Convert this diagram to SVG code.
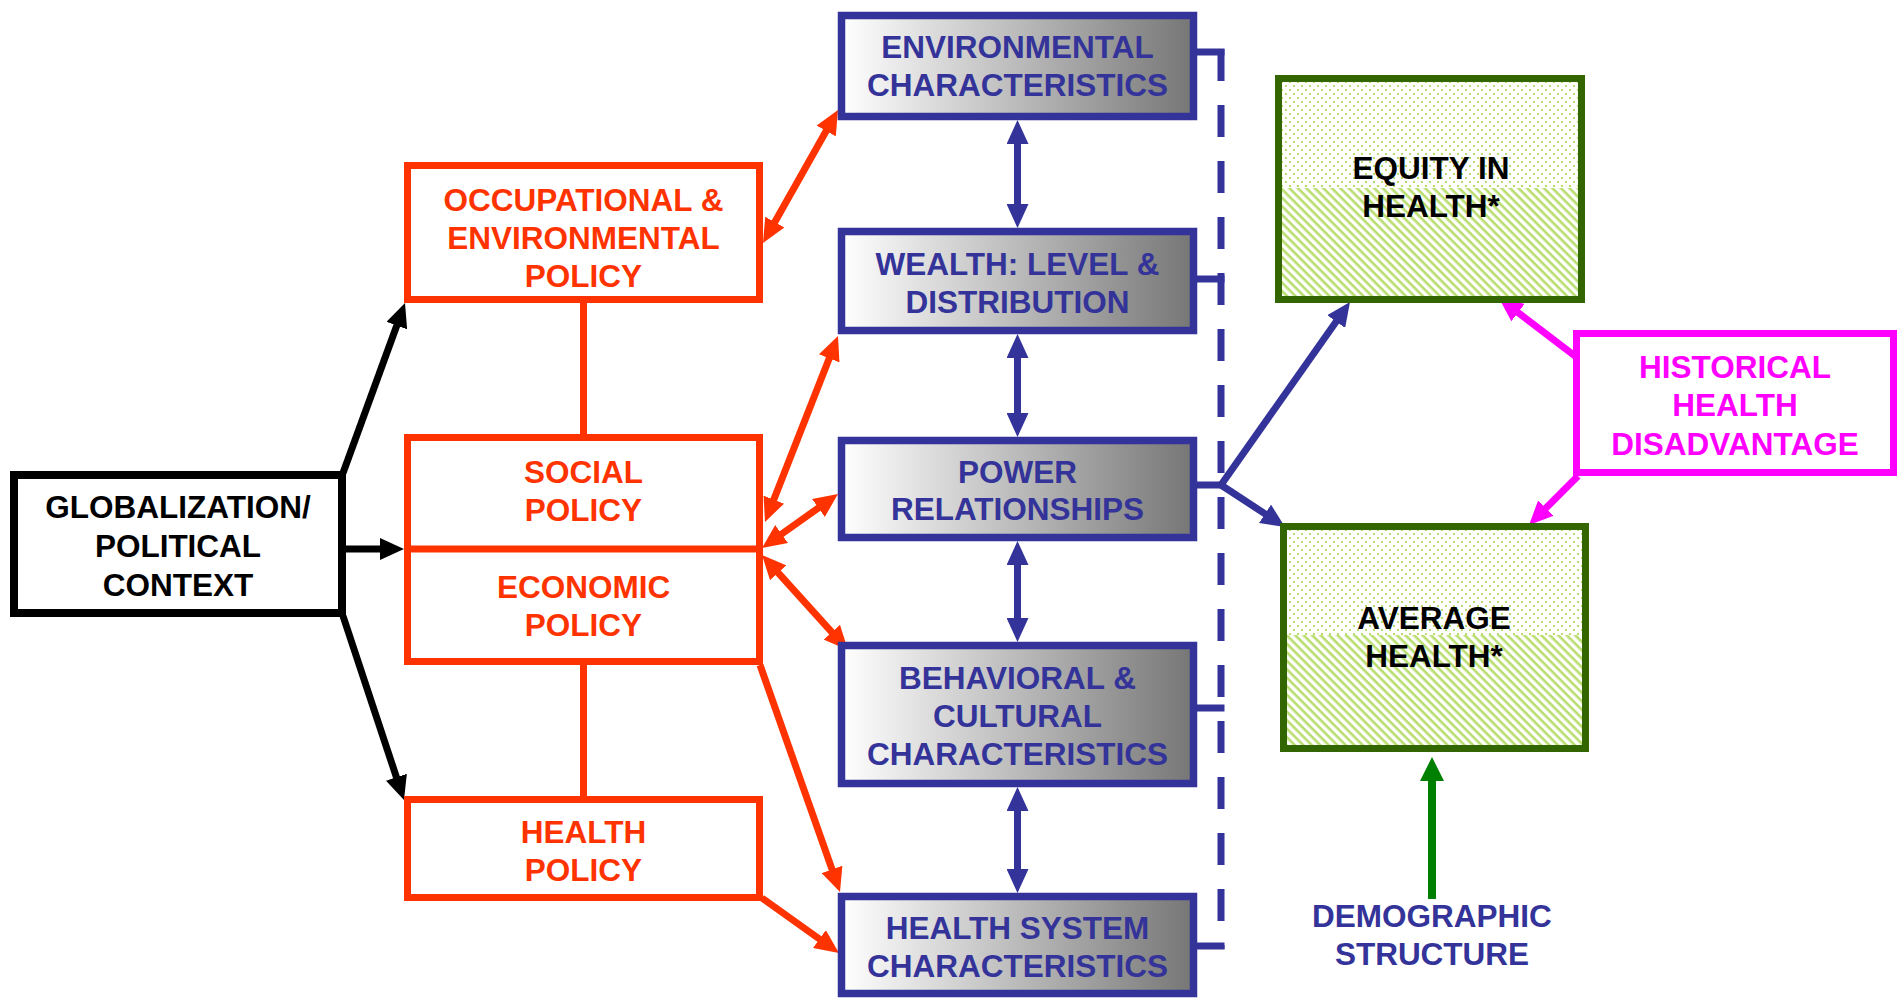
<svg xmlns="http://www.w3.org/2000/svg" width="1902" height="1000" viewBox="0 0 1902 1000">
<style>
  text { font-family: "Liberation Sans", Arial, sans-serif; font-weight: bold; font-size: 31.5px; text-anchor: middle; }
  .tk { fill: #000; }
  .tr { fill: #FF3300; }
  .tb { fill: #333399; }
  .tm { fill: #FF00FF; }
  .bk { fill: #fff; stroke: #000; stroke-width: 8; }
  .rd { fill: #fff; stroke: #FF3300; stroke-width: 7; }
  .bl { fill: url(#grad); stroke: #333399; stroke-width: 7.5; }
  .gr { fill: none; stroke: #336600; stroke-width: 7; }
  .mg { fill: #fff; stroke: #FF00FF; stroke-width: 7; }
  .lk { stroke: #000; stroke-width: 7; fill: none; }
  .lr { stroke: #FF3300; stroke-width: 7; fill: none; }
  .lb { stroke: #333399; stroke-width: 7; fill: none; }
  .lm { stroke: #FF00FF; stroke-width: 7; fill: none; }
  .lg { stroke: #008000; stroke-width: 8; fill: none; }
</style>
<defs>
  <linearGradient id="grad" x1="0" y1="0" x2="1" y2="0">
    <stop offset="0" stop-color="#ffffff"/>
    <stop offset="1" stop-color="#767676"/>
  </linearGradient>
  <pattern id="dots" width="8" height="8" patternUnits="userSpaceOnUse">
    <rect width="8" height="8" fill="#fff"/>
    <circle cx="2" cy="2" r="1.1" fill="#a8d44a"/>
    <circle cx="6" cy="6" r="1.1" fill="#a8d44a"/>
  </pattern>
  <pattern id="hatch" width="6" height="6" patternUnits="userSpaceOnUse" patternTransform="rotate(45)">
    <rect width="6" height="6" fill="#fff"/>
    <rect width="6" height="2.6" fill="#b9dd6e"/>
  </pattern>
  <marker id="ak" viewBox="0 0 24 22" refX="12" refY="11" markerWidth="24" markerHeight="22" markerUnits="userSpaceOnUse" orient="auto-start-reverse"><path d="M0,0 L24,11 L0,22 z" fill="#000"/></marker>
  <marker id="ar" viewBox="0 0 24 22" refX="12" refY="11" markerWidth="24" markerHeight="22" markerUnits="userSpaceOnUse" orient="auto-start-reverse"><path d="M0,0 L24,11 L0,22 z" fill="#FF3300"/></marker>
  <marker id="ab" viewBox="0 0 24 22" refX="12" refY="11" markerWidth="24" markerHeight="22" markerUnits="userSpaceOnUse" orient="auto-start-reverse"><path d="M0,0 L24,11 L0,22 z" fill="#333399"/></marker>
  <marker id="am" viewBox="0 0 24 22" refX="12" refY="11" markerWidth="24" markerHeight="22" markerUnits="userSpaceOnUse" orient="auto-start-reverse"><path d="M0,0 L24,11 L0,22 z" fill="#FF00FF"/></marker>
  <marker id="ag" viewBox="0 0 24 24" refX="12" refY="12" markerWidth="24" markerHeight="24" markerUnits="userSpaceOnUse" orient="auto-start-reverse"><path d="M0,0 L24,12 L0,24 z" fill="#008000"/></marker>
</defs>

<g id="connectors">
  <line class="lr" x1="583.5" y1="303" x2="583.5" y2="434"/>
  <line class="lr" x1="583.5" y1="665" x2="583.5" y2="796"/>
  <line class="lk" x1="343" y1="473" x2="400.9" y2="314.3" marker-end="url(#ak)"/>
  <line class="lk" x1="343" y1="549" x2="392" y2="549" marker-end="url(#ak)"/>
  <line class="lk" x1="343" y1="616" x2="400.2" y2="788.6" marker-end="url(#ak)"/>
  <line class="lr" x1="768.9" y1="232.5" x2="832.1" y2="120.5" marker-start="url(#ar)" marker-end="url(#ar)"/>
  <line class="lr" x1="769.4" y1="510.8" x2="833.6" y2="347.2" marker-start="url(#ar)" marker-end="url(#ar)"/>
  <line class="lr" x1="771.8" y1="541" x2="828.2" y2="501" marker-start="url(#ar)" marker-end="url(#ar)"/>
  <line class="lr" x1="770.1" y1="563.9" x2="839.9" y2="641.1" marker-start="url(#ar)" marker-end="url(#ar)"/>
  <line class="lr" x1="760" y1="665" x2="836" y2="880.7" marker-end="url(#ar)"/>
  <line class="lr" x1="762" y1="898" x2="829.2" y2="946" marker-end="url(#ar)"/>
  <line class="lb" x1="1017.5" y1="132" x2="1017.5" y2="216" marker-start="url(#ab)" marker-end="url(#ab)"/>
  <line class="lb" x1="1017.5" y1="346" x2="1017.5" y2="425" marker-start="url(#ab)" marker-end="url(#ab)"/>
  <line class="lb" x1="1017.5" y1="553" x2="1017.5" y2="630" marker-start="url(#ab)" marker-end="url(#ab)"/>
  <line class="lb" x1="1017.5" y1="799" x2="1017.5" y2="881" marker-start="url(#ab)" marker-end="url(#ab)"/>
  <line class="lb" x1="1221" y1="49" x2="1221" y2="949" stroke-dasharray="32 24"/>
  <line class="lb" x1="1197" y1="52" x2="1224.5" y2="52"/>
  <line class="lb" x1="1197" y1="279" x2="1224.5" y2="279"/>
  <line class="lb" x1="1197" y1="485" x2="1224.5" y2="485"/>
  <line class="lb" x1="1197" y1="708" x2="1224.5" y2="708"/>
  <line class="lb" x1="1197" y1="946" x2="1224.5" y2="946"/>
  <line class="lb" x1="1221" y1="485" x2="1343.1" y2="311.8" marker-end="url(#ab)"/>
  <line class="lb" x1="1221" y1="485" x2="1275" y2="520.4" marker-end="url(#ab)"/>
  <line class="lm" x1="1575" y1="356" x2="1508.5" y2="305.3" marker-end="url(#am)"/>
  <line class="lm" x1="1578" y1="476" x2="1537.5" y2="516.5" marker-end="url(#am)"/>
  <line class="lg" x1="1432" y1="899" x2="1432" y2="769" marker-end="url(#ag)"/>
</g>

<g id="globalization">
  <rect class="bk" x="14" y="475" width="328" height="138"/>
  <text class="tk" x="178" y="518">GLOBALIZATION/</text>
  <text class="tk" x="178" y="557">POLITICAL</text>
  <text class="tk" x="178" y="596">CONTEXT</text>
</g>

<g id="occupational">
  <rect class="rd" x="407.5" y="165.5" width="352" height="134"/>
  <text class="tr" x="583.5" y="211">OCCUPATIONAL &amp;</text>
  <text class="tr" x="583.5" y="249">ENVIRONMENTAL</text>
  <text class="tr" x="583.5" y="287">POLICY</text>
</g>

<g id="social-economic">
  <rect class="rd" x="407.5" y="437.5" width="352" height="224"/>
  <line class="lr" x1="404" y1="549" x2="763" y2="549"/>
  <text class="tr" x="583.5" y="483">SOCIAL</text>
  <text class="tr" x="583.5" y="521">POLICY</text>
  <text class="tr" x="583.5" y="598">ECONOMIC</text>
  <text class="tr" x="583.5" y="636">POLICY</text>
</g>

<g id="health-policy">
  <rect class="rd" x="407.5" y="799.5" width="352" height="98"/>
  <text class="tr" x="583.5" y="843">HEALTH</text>
  <text class="tr" x="583.5" y="881">POLICY</text>
</g>

<g id="environmental">
  <rect class="bl" x="841.5" y="15.5" width="352" height="101"/>
  <text class="tb" x="1017.5" y="58">ENVIRONMENTAL</text>
  <text class="tb" x="1017.5" y="96">CHARACTERISTICS</text>
</g>

<g id="wealth">
  <rect class="bl" x="841.5" y="231.5" width="352" height="99"/>
  <text class="tb" x="1017.5" y="275">WEALTH: LEVEL &amp;</text>
  <text class="tb" x="1017.5" y="313">DISTRIBUTION</text>
</g>

<g id="power">
  <rect class="bl" x="841.5" y="440.5" width="352" height="97"/>
  <text class="tb" x="1017.5" y="483">POWER</text>
  <text class="tb" x="1017.5" y="520">RELATIONSHIPS</text>
</g>

<g id="behavioral">
  <rect class="bl" x="841.5" y="645.5" width="352" height="138"/>
  <text class="tb" x="1017.5" y="689">BEHAVIORAL &amp;</text>
  <text class="tb" x="1017.5" y="727">CULTURAL</text>
  <text class="tb" x="1017.5" y="765">CHARACTERISTICS</text>
</g>

<g id="health-system">
  <rect class="bl" x="841.5" y="896.5" width="352" height="97"/>
  <text class="tb" x="1017.5" y="939">HEALTH SYSTEM</text>
  <text class="tb" x="1017.5" y="977">CHARACTERISTICS</text>
</g>

<g id="equity">
  <rect x="1282" y="82" width="296" height="106" fill="url(#dots)"/>
  <rect x="1282" y="188" width="296" height="108" fill="url(#hatch)"/>
  <rect class="gr" x="1278.5" y="78.5" width="303" height="221"/>
  <text class="tk" x="1431" y="179">EQUITY IN</text>
  <text class="tk" x="1431" y="217">HEALTH*</text>
</g>

<g id="average">
  <rect x="1287" y="530" width="295" height="105" fill="url(#dots)"/>
  <rect x="1287" y="635" width="295" height="110" fill="url(#hatch)"/>
  <rect class="gr" x="1283.5" y="526.5" width="302" height="222"/>
  <text class="tk" x="1434" y="629">AVERAGE</text>
  <text class="tk" x="1434" y="667">HEALTH*</text>
</g>

<g id="historical">
  <rect class="mg" x="1576.5" y="333.5" width="317" height="139"/>
  <text class="tm" x="1735" y="378">HISTORICAL</text>
  <text class="tm" x="1735" y="416">HEALTH</text>
  <text class="tm" x="1735" y="455">DISADVANTAGE</text>
</g>

<g id="demographic">
  <text class="tb" x="1432" y="927">DEMOGRAPHIC</text>
  <text class="tb" x="1432" y="965">STRUCTURE</text>
</g>
</svg>
